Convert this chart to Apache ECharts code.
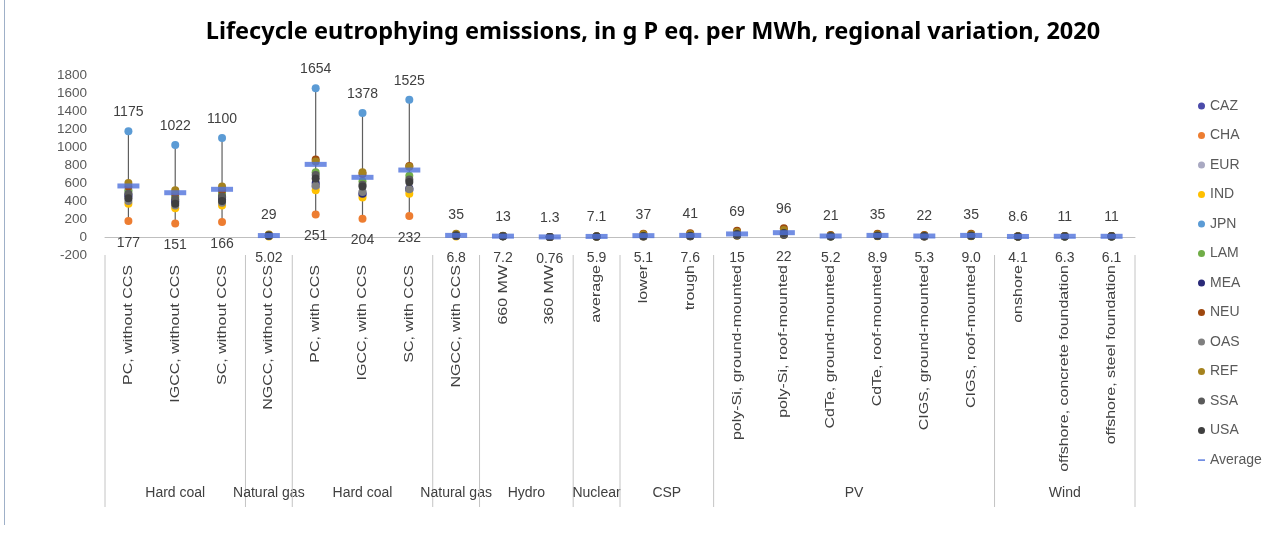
<!DOCTYPE html>
<html>
<head>
<meta charset="utf-8">
<script src="https://cdn.jsdelivr.net/npm/echarts@6/dist/echarts.min.js"></script>
<style>
html,body{margin:0;padding:0;background:#ffffff;}
#c{position:absolute;left:0;top:0;width:1285px;height:539px;}
#edge{position:absolute;left:4px;top:0;width:1px;height:525px;background:#9fb0c8;}
</style>
</head>
<body>
<div id="c"></div>
<div id="edge"></div>
<script>
// ---------- DATA ----------
const categories = [
  'PC, without CCS','IGCC, without CCS','SC, without CCS','NGCC, without CCS',
  'PC, with CCS','IGCC, with CCS','SC, with CCS','NGCC, with CCS',
  '660 MW','360 MW','average','lower','trough',
  'poly-Si, ground-mounted','poly-Si, roof-mounted','CdTe, ground-mounted','CdTe, roof-mounted',
  'CIGS, ground-mounted','CIGS, roof-mounted',
  'onshore','offshore, concrete foundation','offshore, steel foundation'
];
const groupNames = ['Hard coal','Natural gas','Hard coal','Natural gas','Hydro','Nuclear','CSP','PV','Wind'];
const groupSizes = [3,1,3,1,2,1,2,6,3];

const regionNames = ['CAZ','CHA','EUR','IND','JPN','LAM','MEA','NEU','OAS','REF','SSA','USA'];
const CAZ = [450,390,420,15,560,470,520,18,9,0.95,6.2,10,13,30,42,9,15,9.5,15,5.5,7.5,7.3];
const CHA = [177,151,166,12,251,204,232,14,10,1.0,6.5,20,24,45,62,14,23,14,23,7,9,8.8];
const EUR = [520,440,480,18,580,500,540,20,8.5,0.9,6.0,12,15,28,40,8.5,14,9,14,5.2,7.2,7];
const IND = [370,320,350,5.02,520,440,480,6.8,7.2,0.76,5.9,5.1,7.6,15,22,5.2,8.9,5.3,9.0,4.1,6.3,6.1];
const JPN = [1175,1022,1100,20,1654,1378,1525,24,11,1.1,6.8,25,30,40,56,12,20,12,20,6.5,8.5,8.3];
const LAM = [510,450,480,14,720,620,680,16,9.5,0.98,6.3,8,10,20,28,6.5,11,7,11,4.8,6.8,6.6];
const MEA = [470,400,440,10,600,480,540,12,8,0.85,6.1,6,8.5,18,25,6,10,6.2,10,4.5,6.6,6.4];
const NEU = [560,480,520,22,860,700,790,26,12,1.2,7.1,37,41,69,96,21,35,22,35,8.6,11,11];
const OAS = [400,350,380,16,570,500,530,18,10,1.0,6.4,15,18,35,48,11,18,11,18,6,8,7.8];
const REF = [600,520,560,29,840,720,780,35,13,1.3,6.9,30,34,55,78,17,28,18,28,7.8,10,9.8];
const SSA = [480,420,450,13,690,580,640,15,7.8,0.8,6.0,7,9,22,30,7,12,7.5,12,4.6,6.7,6.5];
const USA = [430,370,400,17,650,560,610,19,9.2,0.92,6.2,11,14,33,45,9.5,16,10,16,5.8,7.8,7.6];
const average = [567,492,530,16,807,663,744,18,9.6,1.0,6.4,15,18,34,48,11,18,11,18,6,8,7.9];

const maxLabels = ['1175','1022','1100','29','1654','1378','1525','35','13','1.3','7.1','37','41','69','96','21','35','22','35','8.6','11','11'];
const minLabels = ['177','151','166','5.02','251','204','232','6.8','7.2','0.76','5.9','5.1','7.6','15','22','5.2','8.9','5.3','9.0','4.1','6.3','6.1'];

const yMin = -200, yMax = 1800, yInterval = 200;

const regionColors = ['#4B4BAA','#ED7D31','#A9A9C2','#FFC000','#5B9BD5','#70AD47','#2A2A78','#9E480E','#7F7F7F','#A5821E','#5A5A5A','#3F3F3F'];
const avgColor = '#4F72DC';

// ---------- BUILD ----------
const regionData = [CAZ,CHA,EUR,IND,JPN,LAM,MEA,NEU,OAS,REF,SSA,USA];
const FONT = '"Liberation Sans", Arial, sans-serif';

const hiLoData = categories.map((c, i) => {
  const vals = regionData.map(r => r[i]);
  return [i, Math.min(...vals), Math.max(...vals), minLabels[i], maxLabels[i]];
});

let start = 0;
const groupData = groupNames.map((g, k) => {
  const row = [start, yMin, groupSizes[k], g, k === groupNames.length - 1 ? 1 : 0];
  start += groupSizes[k];
  return row;
});

const catLabelData = categories.map((c, i) => [i, yMin]);

const series = [];
series.push({
  type: 'custom',
  name: 'hilo',
  data: hiLoData,
  encode: { x: 0, y: [1, 2] },
  clip: false,
  z: 1,
  silent: true,
  renderItem: function (params, api) {
    const i = api.value(0);
    const pLo = api.coord([i, api.value(1)]);
    const pHi = api.coord([i, api.value(2)]);
    const lo = hiLoData[params.dataIndex][3];
    const hi = hiLoData[params.dataIndex][4];
    return {
      type: 'group',
      children: [
        { type: 'line', shape: { x1: pHi[0], y1: pHi[1], x2: pLo[0], y2: pLo[1] },
          style: { stroke: '#5f5f5f', lineWidth: 1.2 } },
        { type: 'text', style: { text: hi, x: pHi[0], y: pHi[1] - 19, align: 'center', verticalAlign: 'middle',
          fontSize: 14, fontFamily: FONT, fill: '#404040' } },
        { type: 'text', style: { text: lo, x: pLo[0], y: pLo[1] + 22, align: 'center', verticalAlign: 'middle',
          fontSize: 14, fontFamily: FONT, fill: '#404040' } }
      ]
    };
  }
});

series.push({
  type: 'custom',
  name: 'catLabels',
  data: catLabelData,
  encode: { x: 0, y: 1 },
  clip: false,
  silent: true,
  z: 1,
  renderItem: function (params, api) {
    const p = api.coord([api.value(0), api.value(1)]);
    return {
      type: 'text',
      x: p[0], y: p[1] + 10,
      rotation: Math.PI / 2,
      scaleX: 1.23,
      style: { text: categories[params.dataIndex], x: 0, y: 0, align: 'right', verticalAlign: 'middle',
        fontSize: 13, fontFamily: FONT, fill: '#404040' }
    };
  }
});

series.push({
  type: 'custom',
  name: 'groups',
  data: groupData,
  encode: { x: 0, y: 1 },
  clip: false,
  silent: true,
  z: 1,
  renderItem: function (params, api) {
    const row = groupData[params.dataIndex];
    const band = api.size([1, 0])[0];
    const p = api.coord([row[0], row[1]]);
    const left = p[0] - band / 2;
    const right = left + row[2] * band;
    const children = [
      { type: 'line', shape: { x1: left, y1: p[1], x2: left, y2: p[1] + 252 },
        style: { stroke: '#c4c4c4', lineWidth: 1 } },
      { type: 'text', style: { text: row[3], x: (left + right) / 2, y: p[1] + 238, align: 'center', verticalAlign: 'middle',
        fontSize: 14, fontFamily: FONT, fill: '#404040' } }
    ];
    if (row[4]) {
      children.push({ type: 'line', shape: { x1: right, y1: p[1], x2: right, y2: p[1] + 252 },
        style: { stroke: '#c4c4c4', lineWidth: 1 } });
    }
    return { type: 'group', children };
  }
});

regionNames.forEach((name, k) => {
  series.push({
    type: 'scatter',
    name: name,
    data: regionData[k],
    symbol: 'circle',
    symbolSize: 8,
    itemStyle: { color: regionColors[k], opacity: 1 },
    z: 3 + k
  });
});
series.push({
  type: 'scatter',
  name: 'Average',
  data: average,
  symbol: 'rect',
  symbolSize: [22, 5],
  itemStyle: { color: avgColor },
  z: 20
});

const legendData = regionNames.map(n => ({ name: n, icon: 'circle' }));
legendData.push({ name: 'Average', icon: 'path://M0,0L0.01,0M0,4L10,4L10,6.5L0,6.5ZM0,10L0.01,10' });

const option = {
  backgroundColor: '#ffffff',
  animation: false,
  title: {
    text: 'Lifecycle eutrophying emissions, in g P eq. per MWh, regional variation, 2020',
    left: 648, top: 15, textAlign: 'center',
    textStyle: { fontFamily: '"Noto Sans", "Open Sans", sans-serif', fontWeight: 'bold', fontSize: 23.5, color: '#000000' }
  },
  legend: {
    orient: 'vertical',
    left: 1193, top: 94,
    itemWidth: 7, itemHeight: 7,
    itemGap: 15.5,
    data: legendData,
    textStyle: { fontFamily: FONT, fontSize: 14, color: '#595959' }
  },
  grid: { left: 105, right: 150, top: 75, bottom: 284, containLabel: false },
  xAxis: {
    type: 'category', data: categories, position: 'bottom', boundaryGap: true,
    axisLine: { show: true, onZero: true, lineStyle: { color: '#bfbfbf', width: 1 } },
    axisTick: { show: false }, axisLabel: { show: false }, splitLine: { show: false }
  },
  yAxis: {
    type: 'value', min: yMin, max: yMax, interval: yInterval,
    axisLine: { show: false }, axisTick: { show: false }, splitLine: { show: false },
    axisLabel: { margin: 18, fontFamily: FONT, fontSize: 13.5, color: '#595959', formatter: v => String(v) }
  },
  series: series
};

const chart = echarts.init(document.getElementById('c'), null, { renderer: 'canvas' });
chart.setOption(option);
</script>
</body>
</html>
